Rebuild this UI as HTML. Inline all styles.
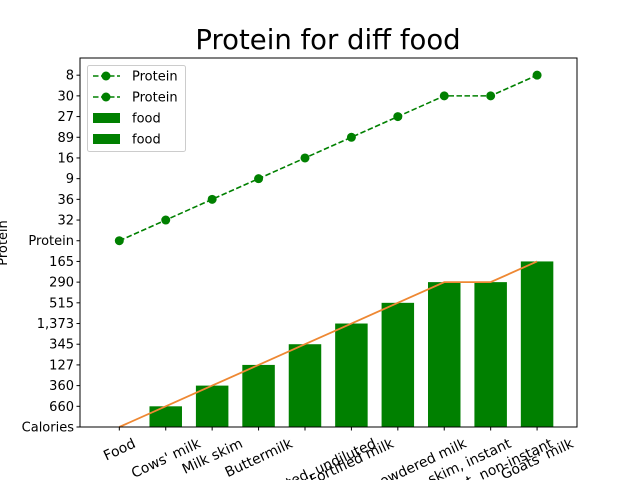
<!DOCTYPE html>
<html><head><meta charset="utf-8"><style>html,body{margin:0;background:#fff;overflow:hidden;width:640px;height:480px}svg{display:block;overflow:hidden;font-family:"DejaVu Sans","Liberation Sans",sans-serif}</style></head>
<body>
<svg id="c" width="640" height="480" xmlns="http://www.w3.org/2000/svg"></svg>
<script>
const yCats=["Calories","660","360","127","345","1,373","515","290","165","Protein","32","36","9","16","89","27","30","8"];
const xCats=["Food","Cows' milk","Milk skim","Buttermilk","Evaporated, undiluted","Fortified milk","Dried, powdered milk","Nonfat, skim, instant","Nonfat, non-instant","Goats' milk"];
const calories=["Calories","660","360","127","345","1,373","515","290","290","165"];
const protein=["Protein","32","36","9","16","89","27","30","30","8"];
const L=80,R=577,T=58,B=427;
const xmin=-0.847,xmax=9.86,ymin=0,ymax=17.83;
const X=i=>L+(i-xmin)/(xmax-xmin)*(R-L);
const Y=v=>B-(v-ymin)/(ymax-ymin)*(B-T);
const yi=s=>yCats.indexOf(s);
const svg=document.getElementById('c');const NS='http://www.w3.org/2000/svg';
function mk(t,a,p){const e=document.createElementNS(NS,t);for(const k in a)e.setAttribute(k,a[k]);(p||svg).appendChild(e);return e;}
let e;
calories.forEach((c,i)=>{const v=yi(c);const w=0.7*(X(1)-X(0));
e=mk('rect',{x:X(i)-w/2,y:Y(v),width:w,height:Y(0)-Y(v),fill:'#008000'});

});
e=mk('polyline',{points:calories.map((c,i)=>X(i)+','+Y(yi(c))).join(' '),fill:'none',stroke:'#ee8833','stroke-width':1.8});


e=mk('polyline',{points:protein.map((c,i)=>X(i)+','+Y(yi(c))).join(' '),fill:'none',stroke:'#008000','stroke-width':1.6,'stroke-dasharray':'5.5,2.5'});


protein.forEach((c,i)=>{e=mk('circle',{cx:X(i),cy:Y(yi(c)),r:4.5,fill:'#008000'});

});
e=mk('rect',{x:L,y:T,width:R-L,height:B-T,fill:'none',stroke:'#000','stroke-width':1});


yCats.forEach((s,i)=>{const y=Y(i);mk('line',{x1:L-3.5,x2:L,y1:y,y2:y,stroke:'#000'});
e=mk('text',{x:L-6,y:y+4.5,'text-anchor':'end','font-size':13});e.textContent=s;

});
const ang=25*Math.PI/180,fs=13.9,th=fs*1.15;
xCats.forEach((s,i)=>{const x=X(i);mk('line',{x1:x,x2:x,y1:B,y2:B+3.5,stroke:'#000'});
e=mk('text',{x:0,y:0,'text-anchor':'middle','font-size':fs,dy:'0.35em'});e.textContent=s;


const w=e.getComputedTextLength();
const bh=w*Math.sin(ang)+th*Math.cos(ang);
e.setAttribute('transform',`translate(${x},${B+8+bh/2}) rotate(-25)`);});
e=mk('text',{x:328,y:49,'text-anchor':'middle','font-size':27.5});e.textContent='Protein for diff food';


e=mk('text',{x:0,y:0,'text-anchor':'middle','font-size':13,transform:'translate(7,243) rotate(-90)'});e.textContent='Protein';


const g=mk('g',{});


mk('rect',{x:87.5,y:65.5,width:98,height:86,rx:2,fill:'#fff','fill-opacity':0.8,stroke:'#ccc'},g);
["Protein","Protein","food","food"].forEach((s,k)=>{const y=76+k*21;
if(k<2){mk('line',{x1:93,x2:120,y1:y,y2:y,stroke:'#008000','stroke-width':1.6,'stroke-dasharray':'5.5,2.5'},g);mk('circle',{cx:106,cy:y,r:4.5,fill:'#008000'},g);}
else mk('rect',{x:93,y:y-5,width:27,height:10,fill:'#008000'},g);
e=mk('text',{x:132,y:y+4.5,'font-size':13},g);e.textContent=s;

});
</script>
</body></html>
